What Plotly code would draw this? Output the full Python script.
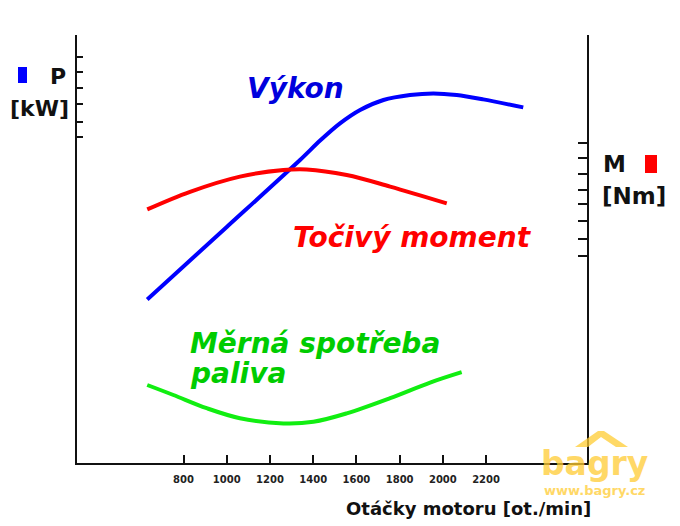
import plotly.graph_objects as go

# ---- data (relative units) ----
rpm_power = [632, 1000, 1339, 1432, 1524, 1617, 1725, 1848, 1956, 2064, 2187, 2372]
power = [40.9, 59.0, 75.75, 80.6, 84.9, 88.25, 90.75, 92.0, 92.4, 92.0, 90.9, 88.9]

rpm_torque = [632, 830, 1061, 1262, 1370, 1555, 1756, 2018]
torque = [63.4, 67.8, 71.6, 73.25, 73.4, 72.0, 69.1, 64.9]

rpm_fuel = [632, 753, 907, 1061, 1262, 1401, 1555, 1756, 1941, 2087]
fuel = [19.5, 17.0, 13.7, 11.2, 9.9, 10.3, 12.4, 16.2, 20.1, 22.7]

x_ticks = [800, 1000, 1200, 1400, 1600, 1800, 2000, 2200]
left_ticks = [101.5, 97.75, 93.75, 89.75, 85.25, 81.5]
right_ticks = [80, 76.25, 72.25, 68.25, 64.75, 60.5, 56, 51.75]

W, H = 680, 526
L, R, T, B = 77, 93, 35, 63
PW, PH = W - L - R, H - T - B


def px(x):
    return (x - L) / PW


def py(y):
    return (H - B - y) / PH


FONT = "DejaVu Sans"

fig = go.Figure()
fig.add_trace(go.Scatter(x=rpm_power, y=power, mode="lines",
                         line=dict(color="#0000FF", width=4, shape="spline", smoothing=0.8),
                         hoverinfo="skip", showlegend=False))
fig.add_trace(go.Scatter(x=rpm_torque, y=torque, mode="lines", yaxis="y2",
                         line=dict(color="#FF0000", width=4, shape="spline", smoothing=1.0),
                         hoverinfo="skip", showlegend=False))
fig.add_trace(go.Scatter(x=rpm_fuel, y=fuel, mode="lines",
                         line=dict(color="#11EE11", width=4, shape="spline", smoothing=1.0),
                         hoverinfo="skip", showlegend=False))

axis_common = dict(showgrid=False, zeroline=False, showline=True,
                   linecolor="#111111", linewidth=2, tickcolor="#111111", tickwidth=2)

fig.update_layout(
    width=W, height=H,
    margin=dict(l=L, r=R, t=T, b=B),
    paper_bgcolor="white", plot_bgcolor="white",
    xaxis=dict(range=[307, 2667], tickvals=x_ticks, ticktext=[str(v) for v in x_ticks],
               ticks="inside", ticklen=8, ticklabelstandoff=6,
               tickfont=dict(family=FONT, size=10, color="#222222", weight="bold"),
               **axis_common),
    yaxis=dict(range=[0, 107], tickvals=left_ticks, ticks="inside", ticklen=6,
               showticklabels=False, **axis_common),
    yaxis2=dict(range=[0, 107], tickvals=right_ticks, ticks="inside", ticklen=9,
                showticklabels=False, overlaying="y", side="right", **axis_common),
)

ann = []


def add_text(text, x, y, size, color, xanchor="center", italic=True, weight="bold", family=FONT, opacity=1.0):
    ann.append(dict(text=text, xref="paper", yref="paper", x=px(x), y=py(y),
                    xanchor=xanchor, yanchor="middle", showarrow=False, opacity=opacity,
                    font=dict(family=family, size=size, color=color, weight=weight,
                              style="italic" if italic else "normal")))


add_text("Výkon", 295, 88, 28, "#0000DD")
add_text("Točivý moment", 412, 237, 28, "#FF0000")
add_text("Měrná spotřeba", 188, 343, 28, "#00CC00", xanchor="left")
add_text("paliva", 188, 373, 28, "#00CC00", xanchor="left")

add_text("P", 58, 76, 22, "#111111", italic=False)
add_text("[kW]", 39, 109, 22, "#111111", italic=False)
add_text("M", 614, 164, 23, "#111111", italic=False)
add_text("[Nm]", 634, 196, 23, "#111111", italic=False)

add_text("Otáčky motoru [ot./min]", 468, 508, 18, "#111111", italic=False)

add_text("bagry", 594, 463, 33, "#FFCC33", italic=False, opacity=0.75)
add_text("www.bagry.cz", 594, 490, 13, "#FFCC33", italic=False, weight="bold", opacity=0.75)

fig.update_layout(annotations=ann)

shapes = [
    dict(type="rect", xref="paper", yref="paper", x0=px(18), x1=px(27), y0=py(83), y1=py(67),
         fillcolor="#0000FF", line=dict(width=0)),
    dict(type="rect", xref="paper", yref="paper", x0=px(645), x1=px(657), y0=py(173), y1=py(155),
         fillcolor="#FF0000", line=dict(width=0)),
    # house roof of the watermark logo
    dict(type="path", xref="paper", yref="paper",
         path=(f"M {px(575)} {py(447)} L {px(598)} {py(431)} L {px(604)} {py(431)} "
               f"L {px(628)} {py(447)} L {px(616)} {py(447)} L {px(601)} {py(437)} "
               f"L {px(588)} {py(447)} Z"),
         fillcolor="#FFCC33", opacity=0.75, line=dict(width=0)),
]
fig.update_layout(shapes=shapes)

fig.write_html("out.html")
